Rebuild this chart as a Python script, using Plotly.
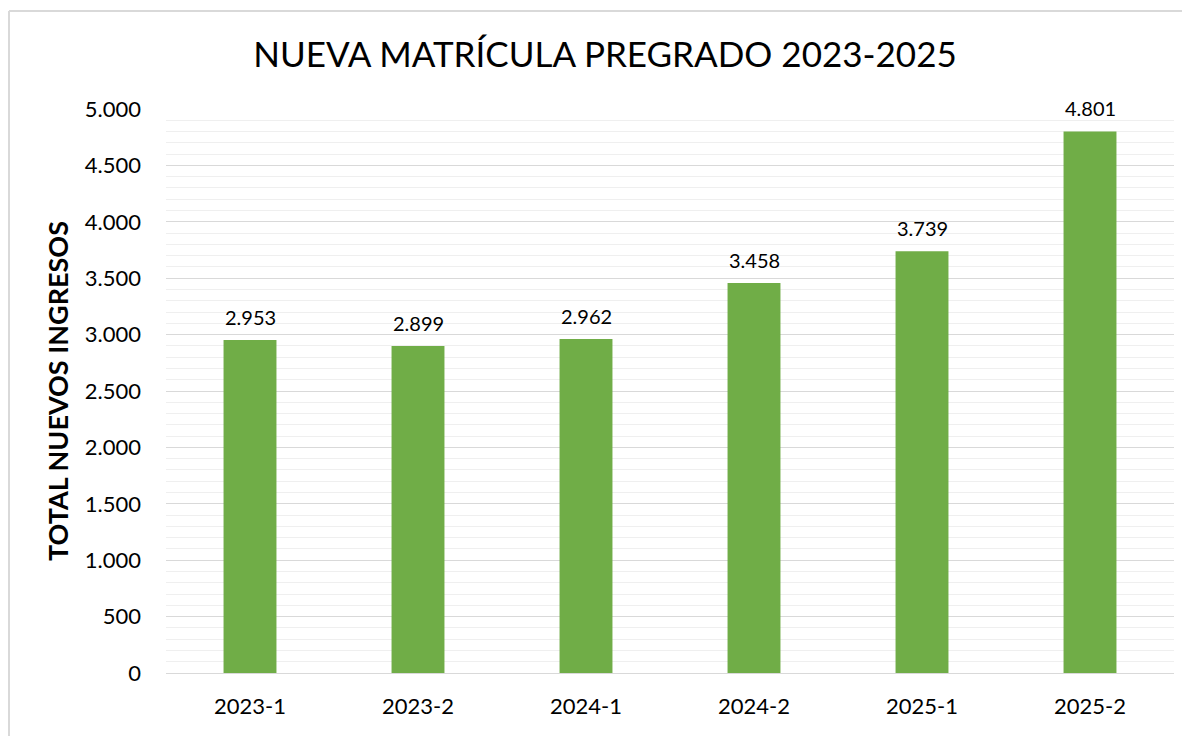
import plotly.graph_objects as go

categories = ["2023-1", "2023-2", "2024-1", "2024-2", "2025-1", "2025-2"]
values = [2953, 2899, 2962, 3458, 3739, 4801]
labels = ["2.953", "2.899", "2.962", "3.458", "3.739", "4.801"]
tick_vals = [0, 500, 1000, 1500, 2000, 2500, 3000, 3500, 4000, 4500, 5000]
tick_text = ["0", "500", "1.000", "1.500", "2.000", "2.500", "3.000", "3.500", "4.000", "4.500", "5.000"]

FONT = "Lato"
OFF = 8  # page body margin
W, H = 1190 - OFF, 736 - OFF
L = 166 - OFF
T = 109 - OFF
R = OFF + W - 1174
B = OFF + H - 673
pw, ph = W - L - R, H - T - B

fig = go.Figure(go.Bar(
    x=categories, y=values,
    marker=dict(color="#70AD47", line=dict(width=0)),
    cliponaxis=False,
))

for c, v, t in zip(categories, values, labels):
    fig.add_annotation(x=c, y=v, text=t, showarrow=False, yanchor="bottom", yshift=9,
                       font=dict(family=FONT, size=20, color="#000000"))

fig.update_layout(
    width=W, height=H,
    margin=dict(l=L, r=R, t=T, b=B),
    paper_bgcolor="white", plot_bgcolor="white",
    bargap=0.685,
    showlegend=False,
    title=dict(text="NUEVA MATRÍCULA PREGRADO 2023-2025", x=(605 - OFF) / W, xanchor="center",
               y=1 - (55 - OFF) / H, yanchor="middle",
               font=dict(family=FONT, size=35, color="#000000")),
    font=dict(family=FONT, color="#000000"),
)
fig.update_xaxes(type="category", showline=True, linecolor="#D9D9D9", linewidth=1, showgrid=False,
                 automargin=False,
                 tickfont=dict(family=FONT, size=22, color="#000000"), ticks="", ticklabelstandoff=14)
fig.update_yaxes(range=[0, 5000], tickvals=tick_vals, ticktext=tick_text, automargin=False,
                 showgrid=True, gridcolor="#D9D9D9", gridwidth=1.3, zeroline=False,
                 minor=dict(dtick=100, showgrid=True, gridcolor="#EFEFEF", gridwidth=1.3, tick0=0),
                 tickfont=dict(family=FONT, size=22, color="#000000"), ticks="",
                 ticklabelstandoff=24,
                 title=dict(text="<b>TOTAL NUEVOS INGRESOS</b>", font=dict(family=FONT, size=27, color="#000000"),
                            standoff=8))

# outer chart border: only the left and top edges are visible in the reference
x0 = (9 - 166) / pw
x1 = 1 + (R + 10) / pw
y1 = 1 + (109 - 11) / ph
y0 = -(B + 10) / ph
border = dict(color="#D9D9D9", width=2)
fig.add_shape(type="line", xref="paper", yref="paper", x0=x0, x1=x1, y0=y1, y1=y1, line=border, layer="below")
fig.add_shape(type="line", xref="paper", yref="paper", x0=x0, x1=x0, y0=y0, y1=y1, line=border, layer="below")

fig.write_html("out.html")
